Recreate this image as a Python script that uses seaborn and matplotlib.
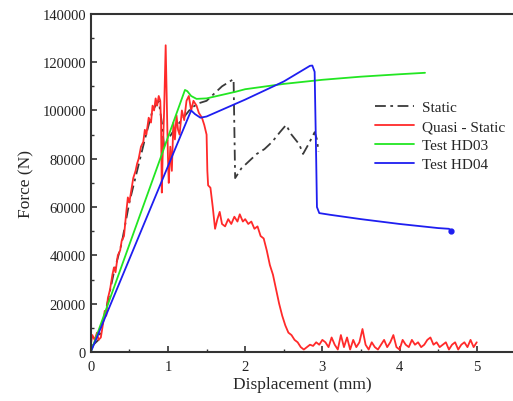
import numpy as np
import pandas as pd
import matplotlib
matplotlib.use("Agg")
import matplotlib.pyplot as plt
import seaborn as sns
from matplotlib.ticker import MultipleLocator

# --- DATA ---
static_x = [0.00, 0.10, 0.20, 0.30, 0.40, 0.50, 0.60, 0.70, 0.80, 0.88, 0.92, 0.95, 1.00,
            1.10, 1.20, 1.30, 1.40, 1.50, 1.60, 1.70, 1.85, 1.87, 1.95, 2.05, 2.15, 2.25,
            2.35, 2.45, 2.53, 2.60, 2.70, 2.75, 2.82, 2.90, 2.93, 2.95]
static_y = [2000, 5000, 18000, 33000, 45000, 62000, 75000, 88000, 100000, 104000, 95000, 85000, 88000,
            93000, 97000, 101000, 103000, 104000, 107000, 110000, 113000, 72000, 76000, 79000, 82000, 84000,
            87000, 91000, 94000, 90000, 86000, 82000, 86000, 91000, 88000, 83000]

quasi_x = [0.00, 0.02, 0.05, 0.08, 0.10, 0.13, 0.16, 0.18, 0.20, 0.22, 0.25, 0.28, 0.30, 0.32, 0.35,
           0.38, 0.40, 0.43, 0.46, 0.48, 0.50, 0.52, 0.55, 0.58, 0.60, 0.62, 0.65, 0.68, 0.70, 0.72,
           0.75, 0.78, 0.80, 0.82, 0.84, 0.86, 0.88, 0.90, 0.91, 0.92, 0.93, 0.95, 0.97, 0.98, 0.99,
           1.00, 1.01, 1.03, 1.05, 1.07, 1.09, 1.11, 1.13, 1.15, 1.18, 1.21, 1.24, 1.27, 1.30, 1.33,
           1.37, 1.40, 1.44, 1.47, 1.50, 1.51, 1.52, 1.55, 1.58, 1.61, 1.64, 1.67, 1.70, 1.74, 1.78,
           1.82, 1.86, 1.90, 1.93, 1.97, 2.00, 2.04, 2.08, 2.12, 2.16, 2.20, 2.24, 2.28, 2.32, 2.36,
           2.40, 2.44, 2.48, 2.52, 2.56, 2.60, 2.64, 2.68, 2.72, 2.76, 2.80, 2.84, 2.88, 2.92, 2.96,
           3.00, 3.04, 3.08, 3.12, 3.16, 3.20, 3.24, 3.28, 3.32, 3.36, 3.40, 3.44, 3.48, 3.52, 3.56,
           3.60, 3.64, 3.68, 3.72, 3.76, 3.80, 3.84, 3.88, 3.92, 3.96, 4.00, 4.04, 4.08, 4.12, 4.16,
           4.20, 4.24, 4.28, 4.32, 4.36, 4.40, 4.44, 4.48, 4.52, 4.56, 4.60, 4.64, 4.68, 4.72, 4.76,
           4.80, 4.84, 4.88, 4.92, 4.96, 5.00]
quasi_y = [3000, 7000, 5000, 8000, 5000, 6000, 12000, 17000, 15000, 22000, 26000, 32000, 35000, 33000, 40000,
           42000, 46000, 48000, 58000, 64000, 62000, 66000, 72000, 75000, 78000, 80000, 85000, 87000, 92000, 90000,
           97000, 95000, 102000, 100000, 105000, 102000, 106000, 104000, 95000, 66000, 80000, 100000, 127000, 110000, 95000,
           80000, 70000, 85000, 75000, 95000, 88000, 98000, 92000, 90000, 100000, 96000, 104000, 106000, 100000, 104000,
           102000, 99000, 97000, 94000, 90000, 75000, 69000, 68000, 60000, 51000, 55000, 58000, 53000, 52000, 55000,
           53000, 56000, 54000, 57000, 54000, 55000, 53000, 54000, 51000, 52000, 48000, 47000, 42000, 36000, 32000,
           26000, 20000, 15000, 11000, 8000, 7000, 5000, 4000, 2000, 1000, 2000, 3000, 2500, 4000, 3000,
           5000, 4000, 2000, 6000, 3000, 1000, 7000, 2000, 6000, 1000, 5000, 2000, 4000, 9500, 3000,
           1000, 4000, 2000, 1000, 3000, 5000, 2000, 4000, 7000, 2000, 1000, 5000, 3000, 2000, 5000,
           3000, 4000, 2000, 3000, 5000, 6000, 3000, 4000, 2000, 3000, 4000, 1000, 3000, 4000, 1000,
           3000, 4000, 2000, 5000, 2000, 4000]

hd03_x = [0.00, 1.22, 1.25, 1.30, 1.37, 1.50, 1.87, 2.00, 2.50, 3.00, 3.50, 4.00, 4.33]
hd03_y = [0, 108500, 108000, 106000, 104800, 105000, 107700, 108800, 111000, 112700, 114000, 115000, 115600]

hd04_x = [0.00, 1.30, 1.35, 1.42, 1.50, 2.00, 2.50, 2.84, 2.87, 2.90, 2.92, 2.93, 2.96, 3.10,
          3.50, 4.00, 4.50, 4.64, 4.67]
hd04_y = [0, 100000, 98500, 97000, 97500, 104500, 112000, 118500, 118600, 116000, 80000, 60000, 57500, 56800,
          55000, 53000, 51300, 51000, 50200]

series = [
    ("Static", static_x, static_y, "#3a3a3a", (0, (6, 2.5, 1.5, 2.5))),
    ("Quasi - Static", quasi_x, quasi_y, "#ff2a2a", "-"),
    ("Test HD03", hd03_x, hd03_y, "#22e622", "-"),
    ("Test HD04", hd04_x, hd04_y, "#1e1ef0", "-"),
]

# --- PLOT ---
sns.set_style("white")
plt.rcParams["font.family"] = ["Liberation Serif", "DejaVu Serif"]

fig = plt.figure(figsize=(5.13, 4.02), dpi=100)
ax = fig.add_axes([0.177, 0.122, 0.823, 0.841])

for name, xs, ys, color, ls in series:
    sns.lineplot(x=xs, y=ys, sort=False, estimator=None, color=color,
                 linestyle=ls, linewidth=1.3, label=name, ax=ax)

# end dot on HD04
ax.plot(hd04_x[-1], hd04_y[-1], "o", color="#1e1ef0", markersize=3.5)

ax.set_xlim(0, 5.47)
ax.set_ylim(0, 140000)
ax.xaxis.set_major_locator(MultipleLocator(1))
ax.xaxis.set_minor_locator(MultipleLocator(0.5))
ax.yaxis.set_major_locator(MultipleLocator(20000))
ax.yaxis.set_minor_locator(MultipleLocator(10000))
ax.tick_params(which="both", bottom=True, left=True, top=False, right=False, direction="in",
               color="#333333")
ax.tick_params(which="major", length=4, width=1.2, labelsize=10.5, labelcolor="#222222")
ax.tick_params(which="minor", length=2.5, width=1.0)
ax.tick_params(axis="x", pad=6)

for side in ["left", "bottom", "top"]:
    ax.spines[side].set_color("#333333")
    ax.spines[side].set_linewidth(1.5)
ax.spines["right"].set_visible(False)

ax.set_xlabel("Displacement (mm)", fontsize=12.5, labelpad=2)
ax.set_ylabel("Force (N)", fontsize=12.5, labelpad=6)

leg = ax.legend(loc="upper left", bbox_to_anchor=(0.64, 0.785), frameon=False,
                fontsize=11, handlelength=2.6, labelspacing=0.35, handletextpad=0.5)

plt.savefig("out.png", dpi=100, facecolor="white")
plt.close()
